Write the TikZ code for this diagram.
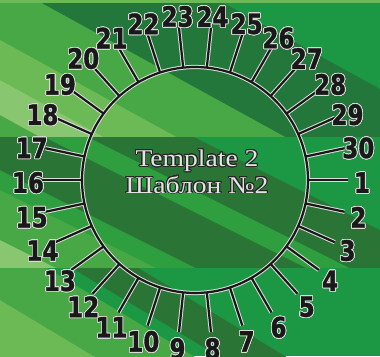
\documentclass[tikz,border=0pt]{standalone}
\usepackage{fontspec}
\usepackage{contour}
\usetikzlibrary{calc}
\newfontfamily\numfont[FakeStretch=0.82,FakeBold=1.2]{DejaVu Sans}
\newfontfamily\cenfont[FakeStretch=1.15]{Liberation Serif}
\definecolor{bgmid}{HTML}{1C9845}
\definecolor{bgmidb}{HTML}{2E9E3E}
\definecolor{bgdark}{HTML}{2A7436}
\definecolor{bgdarkb}{HTML}{23773A}
\definecolor{bglightA}{HTML}{47A845}
\definecolor{bglightB}{HTML}{6CBA56}
\definecolor{bglightC}{HTML}{88C670}
\definecolor{haloc}{HTML}{DCDCDC}
\definecolor{titlefill}{HTML}{E4E4E4}
\contourlength{0.8pt}
\contournumber{24}
\tikzset{
  dial_halo/.style={draw=haloc, line width=4.2pt},
  dial_line/.style={draw=black!90, line width=2.2pt},
  num_lbl/.style={font=\numfont\bfseries\fontsize{28}{28}\selectfont,
    text=black!90, inner sep=0pt},
  cen_lbl/.style={font=\cenfont\fontsize{24}{24}\selectfont,
    text=titlefill, inner sep=0pt},
}
% one diagonal band of the backdrop: colour, from, to, slope
\newcommand{\bgstripe}[4]{%
  \fill[#1] (-10,{#2-10*#4}) -- (390,{#2+390*#4}) -- (390,{#3+390*#4}) -- (-10,{#3-10*#4}) -- cycle;}

\begin{document}
\begin{tikzpicture}[x=1pt, y=-1pt]
\useasboundingbox (0,0) rectangle (380,356);

% backdrop, upper band
\begin{scope}
\clip (0,0) rectangle (380,137);
\fill[bgmid] (0,0) rectangle (380,137);
\bgstripe{bglightA}{-30}{140}{0.55}
\bgstripe{bglightB}{40}{80}{0.55}
\bgstripe{bglightC}{80}{115}{0.55}
\bgstripe{bgdarkb}{-120}{-20}{0.55}
\fill[bglightB] (0,0) rectangle (380,3);
\end{scope}

% backdrop, middle band
\begin{scope}
\clip (0,137) rectangle (380,268);
\fill[bgmid] (0,137) rectangle (380,268);
\bgstripe{bgmidb}{93}{190}{0.5}
\bgstripe{bgdark}{40}{93}{0.5}
\bgstripe{bgdark}{115}{170}{0.5}
\bgstripe{bglightA}{190}{240}{0.5}
\bgstripe{bglightC}{240}{300}{0.5}
\end{scope}

% backdrop, lower band
\begin{scope}
\clip (0,268) rectangle (380,356);
\fill[bgmid] (0,268) rectangle (380,356);
\bgstripe{bglightA}{240}{300}{0.6}
\bgstripe{bglightB}{300}{400}{0.6}
\bgstripe{bgdark}{185}{225}{0.6}
\end{scope}

% dial
\coordinate (c) at (195,180);
\foreach \k in {1,...,30} {
  \pgfmathsetmacro\ang{(\k-1)*12}
  \coordinate (in\k) at ([shift={(c)}]\ang:113);
  \coordinate (out\k) at ([shift={(c)}]\ang:153);
}
\foreach \k in {1,...,30}
  \draw[dial_halo] (in\k) -- (out\k);
\draw[dial_halo] (c) circle[radius=113];
\foreach \k in {1,...,30}
  \draw[dial_line] (in\k) -- (out\k);
\draw[dial_line] (c) circle[radius=113];

% numbers
\foreach \k in {1,...,30} {
  \pgfmathsetmacro\ang{(\k-1)*12}
  \node[num_lbl] (n\k) at ([shift={(195,183)}]\ang:167)
    {\contour{haloc}{\k}};
}

% title
\contourlength{0.9pt}
\node[cen_lbl] (title) at (197,161) {\contour{black!85}{Template 2}};
\node[cen_lbl] (subtitle) at (197,185) {\contour{black!85}{Шаблон №2}};

\end{tikzpicture}
\end{document}
